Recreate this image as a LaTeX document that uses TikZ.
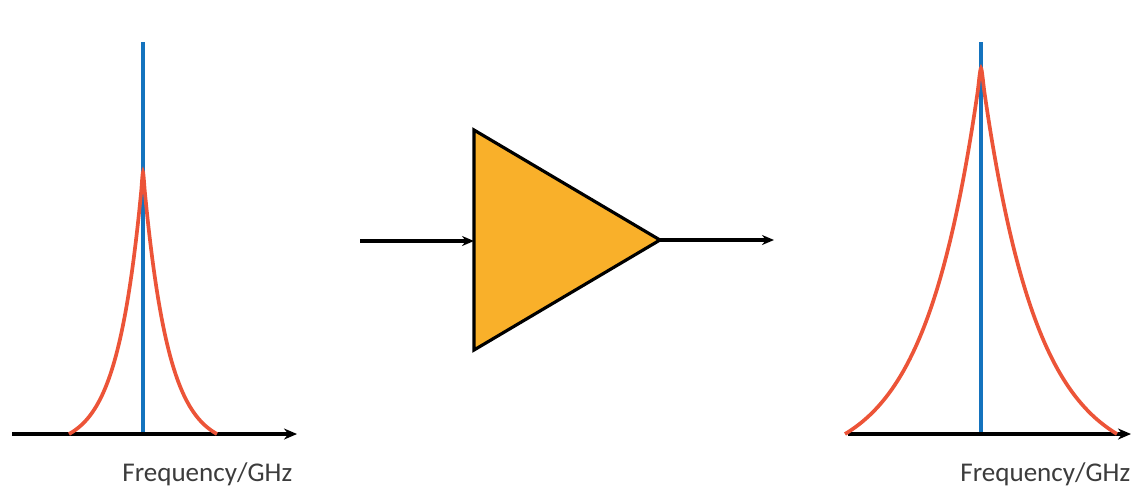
\documentclass[tikz,border=0pt]{standalone}
\usepackage{fontspec}
\setmainfont{Carlito}
\usepackage{tikz}
\usetikzlibrary{arrows.meta}
\definecolor{lineblue}{RGB}{20,115,190}
\definecolor{curvered}{RGB}{236,84,56}
\definecolor{ampfill}{RGB}{249,176,42}
\definecolor{labelgray}{RGB}{60,60,60}
\tikzset{
  axis/.style={line width=2.3pt, -{Stealth[length=0.26cm, width=0.22cm]}},
  carrier/.style={line width=2.2pt, color=lineblue},
  spectrum/.style={line width=2.1pt, color=curvered},
  amp/.style={draw=black, fill=ampfill, line width=1.8pt, line join=miter},
  arr/.style={line width=1.8pt, -{Stealth[length=0.24cm, width=0.2cm]}},
  axlabel/.style={font=\fontsize{15.4}{18}\selectfont, text=labelgray, inner sep=0pt},
}

\begin{document}
\begin{tikzpicture}[x=0.02cm, y=-0.02cm]
  \useasboundingbox (0,0) rectangle (1132,491);

  % input spectrum
  \coordinate (inL) at (12,434);
  \coordinate (inR) at (297,434);
  \coordinate (inTop) at (143,42);
  \coordinate (inBot) at (143,434);
  \draw[carrier] (inBot) -- (inTop);
  \draw[axis] (inL) -- (inR);
  \draw[spectrum] plot[domain=-1:1, samples=81, smooth]
    ({143+74*\x}, {434-262*(exp(-3*abs(\x))-exp(-3))/(1-exp(-3))});
  \node[axlabel, anchor=base west] (inlab) at (122,481) {Frequency/GHz};

  % amplifier
  \coordinate (ampTop) at (474,130);
  \coordinate (ampBot) at (474,350);
  \coordinate (ampIn) at (474,241);
  \coordinate (ampOut) at (660,240);
  \coordinate (src) at (360,241);
  \coordinate (dst) at (774,240);
  \draw[amp] (ampTop) -- (ampOut) -- (ampBot) -- cycle;
  \draw[arr] (src) -- (ampIn);
  \draw[arr] (ampOut) -- (dst);

  % output spectrum
  \coordinate (outL) at (848,434);
  \coordinate (outR) at (1131,434);
  \coordinate (outTop) at (981,42);
  \coordinate (outBot) at (981,434);
  \draw[carrier] (outBot) -- (outTop);
  \draw[axis] (outL) -- (outR);
  \draw[spectrum] plot[domain=-1:1, samples=81, smooth]
    ({981+136*\x}, {434-366*(exp(-2.5*abs(\x))-exp(-2.5))/(1-exp(-2.5))});
  \node[axlabel, anchor=base west] (outlab) at (960,481) {Frequency/GHz};
\end{tikzpicture}
\end{document}
